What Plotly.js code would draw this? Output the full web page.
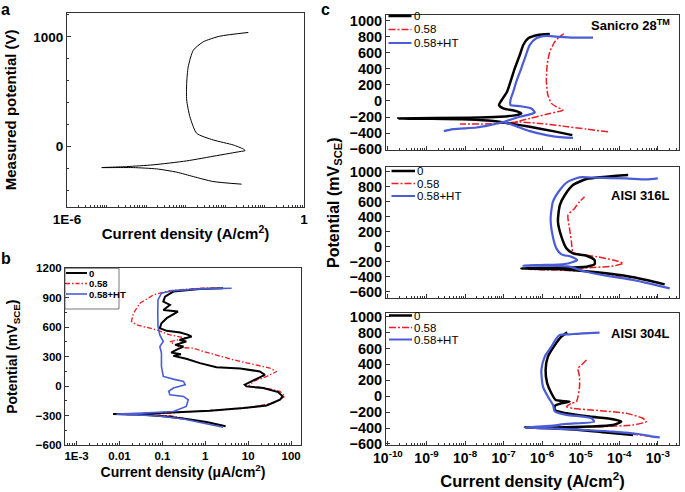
<!DOCTYPE html>
<html>
<head>
<meta charset="utf-8">
<script src="https://cdn.plot.ly/plotly-3.0.1.min.js"></script>
<style>html,body{margin:0;padding:0;background:#fff;}#chart{width:685px;height:492px;}</style>
</head>
<body>
<div id="chart"></div>
<script>
// ---------- DATA ----------
const seriesNames = ['0', '0.58', '0.58+HT'];

// Panel a (A/cm2, mV)
const aCurrent = [2.63e-2, 5.01e-3, 1.58e-3, 6.03e-4, 1.86e-4, 4.79e-5, 7.59e-6, 3.24e-5, 1.51e-4, 1.07e-3, 6.17e-3, 2.40e-2, 3.24e-2, 2.88e-2, 1.62e-2, 5.01e-3, 1.91e-3, 1.29e-3, 1.07e-3, 1.07e-3, 1.17e-3, 1.58e-3, 2.82e-3, 7.41e-3, 3.89e-2];
const aPotential = [-342, -318, -273, -233, -203, -191, -191, -182, -166, -130, -82, -45, -36, -21, 15, 61, 122, 273, 425, 576, 727, 879, 955, 1006, 1040];

// Panel b (uA/cm2, mV_SCE)
const b0Current = [2.97, 1.07, 0.363, 0.126, 0.0355, 0.0071, 0.0355, 0.214, 1.29, 7.67, 26.9, 55, 63, 50, 22.4, 9.1, 8.3, 13.2, 24.5, 18.6, 6.5, 1.82, 0.75, 0.36, 0.18, 0.27, 0.16, 0.21, 0.31, 0.2, 0.36, 0.25, 0.48, 0.40, 0.26, 0.126, 0.087, 0.095, 0.126, 0.23, 0.105, 0.15, 0.105, 0.115, 0.18, 0.75, 2.6];
const b0Potential = [-410, -366, -336, -309, -292, -285, -281, -268, -251, -224, -197, -139, -105, -61, -20, -3, 14, 58, 115, 149, 180, 193, 234, 278, 308, 325, 342, 369, 403, 420, 454, 470, 505, 522, 546, 563, 590, 641, 692, 759, 775, 827, 861, 912, 963, 990, 997];
const b58Current = [2.9, 0.75, 0.15, 0.025, 0.009, 0.087, 1.29, 9.1, 38, 72, 55, 22.4, 10, 13.2, 27, 46, 32, 4.5, 0.9, 0.52, 0.26, 0.15, 0.36, 0.15, 0.072, 0.025, 0.019, 0.021, 0.030, 0.062, 0.15, 0.75, 2.2];
const b58Potential = [-407, -359, -302, -292, -287, -282, -248, -224, -173, -105, -54, -14, -3, 48, 98, 149, 183, 268, 353, 386, 393, 454, 488, 522, 573, 624, 658, 742, 844, 929, 973, 997, 997];
const bHTCurrent = [2.6, 0.89, 0.31, 0.072, 0.021, 0.0085, 0.0355, 0.18, 0.36, 0.40, 0.31, 0.15, 0.14, 0.18, 0.34, 0.31, 0.18, 0.105, 0.095, 0.095, 0.087, 0.105, 0.087, 0.079, 0.078, 0.079, 0.095, 0.18, 0.75, 4.1];
const bHTPotential = [-420, -376, -336, -302, -292, -285, -275, -258, -207, -139, -105, -88, -54, -20, 14, 48, 71, 98, 200, 336, 403, 454, 522, 607, 742, 878, 946, 973, 990, 997];

// Panel c, Sanicro 28 (A/cm2, mV_SCE)
const s0Current = [6.08e-6, 1.91e-6, 4.79e-7, 1.45e-7, 5.37e-8, 1.32e-8, 6.76e-10, 1.86e-10, 1.32e-8, 7.94e-8, 2.14e-7, 2.88e-7, 2.14e-7, 9.77e-8, 7.59e-8, 8.91e-8, 1.23e-7, 1.51e-7, 1.95e-7, 2.63e-7, 3.24e-7, 4.37e-7, 7.76e-7, 1.58e-6];
const s0Potential = [-425, -375, -321, -280, -250, -230, -221, -217, -209, -196, -176, -155, -126, -93, -51, 11, 115, 240, 406, 572, 697, 780, 822, 834];
const s58Current = [5.13e-5, 1.41e-5, 3.47e-6, 8.71e-7, 2.63e-7, 6.31e-8, 7.41e-9, null, 1.20e-7, 4.79e-7, 1.58e-6, 3.47e-6, 2.34e-6, 1.74e-6, 1.41e-6, 1.29e-6, 1.35e-6, 1.58e-6, 2.14e-6, 2.88e-6, 3.63e-6];
const s58Potential = [-383, -350, -313, -280, -262, -283, -286, null, -288, -217, -155, -113, -72, -30, 74, 240, 448, 614, 739, 801, 834];
const sHTCurrent = [6.31e-6, 3.47e-6, 1.29e-6, 4.79e-7, 1.78e-7, 9.77e-8, null, 2.82e-9, 4.90e-9, 2.0e-8, 4.37e-8, 9.77e-8, 2.63e-7, 4.79e-7, 6.46e-7, 5.25e-7, 2.63e-7, 1.51e-7, 1.51e-7, 1.78e-7, 2.14e-7, 2.88e-7, 3.80e-7, 4.79e-7, 7.08e-7, 1.29e-6, 2.34e-6, 6.31e-6, 2.09e-5];
const sHTPotential = [-458, -454, -425, -375, -300, -262, null, -375, -350, -330, -300, -262, -196, -167, -142, -93, -64, -51, 11, 115, 240, 406, 572, 697, 780, 809, 801, 788, 788];

// Panel c, AISI 316L
const m0Current = [1.51e-3, 5.01e-4, 1.51e-4, 4.57e-5, 1.15e-5, 2.34e-6, 2.88e-7, 2.34e-6, 1.41e-5, 2.29e-5, 2.29e-5, 1.41e-5, 6.31e-6, 4.27e-6, 3.16e-6, 2.57e-6, 2.88e-6, 3.89e-6, 6.31e-6, 1.41e-5, 4.57e-5, 1.70e-4];
const m0Potential = [-502, -444, -391, -355, -324, -298, -289, -280, -266, -235, -178, -120, -89, -22, 134, 334, 556, 689, 822, 902, 933, 956];
const m58Current = [5.50e-4, 1.51e-4, 3.80e-5, 9.33e-6, 2.34e-6, 4.37e-7, 2.34e-6, 1.70e-5, 6.92e-5, 1.26e-4, 6.92e-5, 2.57e-5, 9.33e-6, 6.31e-6, 5.75e-6, 5.13e-6, 4.68e-6, 6.92e-6, 9.33e-6, 1.26e-5];
const m58Potential = [-489, -422, -355, -324, -311, -302, -298, -280, -258, -222, -178, -133, -102, -75, 67, 245, 422, 511, 600, 667];
const mHTCurrent = [2.04e-3, 7.41e-4, 2.29e-4, 4.57e-5, 1.15e-5, 5.13e-6, 1.58e-6, 3.24e-7, 8.71e-7, 3.89e-6, 8.13e-6, 5.75e-6, 3.16e-6, 2.34e-6, 1.86e-6, 1.66e-6, 1.91e-6, 2.88e-6, 4.68e-6, 9.33e-6, 2.57e-5, 1.51e-4, 5.01e-4, 1.0e-3];
const mHTPotential = [-555, -502, -444, -386, -324, -266, -253, -253, -244, -231, -178, -133, -102, -22, 156, 378, 600, 756, 867, 925, 920, 911, 898, 911];

// Panel c, AISI 304L
const l0Current = [4.47e-6, 3.16e-6, 2.14e-6, 1.41e-6, 1.23e-6, 1.35e-6, 1.74e-6, 2.24e-6, 3.16e-6, 5.13e-6, 3.16e-6, 2.14e-6, 2.14e-6, 4.27e-6, 1.70e-5, 6.92e-5, 1.12e-4, 6.92e-5, 1.70e-5, 2.34e-6, 3.55e-7, 1.58e-6, 9.33e-6, 4.57e-5, 2.29e-4];
const l0Potential = [803, 749, 644, 498, 330, 163, 37, -47, -59, -68, -89, -122, -172, -214, -256, -290, -319, -361, -382, -394, -394, -403, -424, -457, -486];
const l58Current = [1.41e-5, 1.05e-5, 8.51e-6, 9.33e-6, 9.33e-6, 8.51e-6, 7.76e-6, 5.75e-6, 4.27e-6, 6.31e-6, 3.09e-5, 1.51e-4, 4.07e-4, 5.01e-4, 2.29e-4, 3.09e-5, 4.27e-6, 8.71e-7, 6.31e-6, 4.57e-5, 2.29e-4, 7.41e-4];
const l58Potential = [456, 393, 351, 246, 121, -5, -68, -89, -131, -152, -181, -214, -277, -319, -361, -382, -390, -394, -415, -445, -478, -507];
const lHTCurrent = [3.09e-5, 1.15e-5, 5.13e-6, 2.88e-6, 2.34e-6, 1.74e-6, 1.17e-6, 9.55e-7, 1.05e-6, 1.41e-6, 1.91e-6, 2.14e-6, 4.27e-6, 1.15e-5, 1.91e-5, 2.24e-5, 4.27e-6, 1.58e-6, 3.55e-7, 1.58e-6, 1.15e-5, 6.92e-5, 3.39e-4, 7.41e-4, 1.12e-3];
const lHTPotential = [799, 791, 778, 770, 728, 623, 498, 330, 121, -5, -109, -193, -235, -256, -277, -319, -348, -373, -394, -403, -424, -445, -478, -507, -516];

// Tick labels
const aTickVals = [1e-6, 1];
const aTickText = ['1E-6', '1'];
const bTickVals = [0.001, 0.01, 0.1, 1, 10, 100];
const bTickText = ['1E-3', '0.01', '0.1', '1', '10', '100'];
const cTickVals = [1e-10, 1e-9, 1e-8, 1e-7, 1e-6, 1e-5, 1e-4, 1e-3];
const cTickText = ['10<sup>-10</sup>', '10<sup>-9</sup>', '10<sup>-8</sup>', '10<sup>-7</sup>', '10<sup>-6</sup>', '10<sup>-5</sup>', '10<sup>-4</sup>', '10<sup>-3</sup>'];
const panelLabels = ['a', 'b', 'c'];
const alloyNames = ['Sanicro 28<sup>TM</sup>', 'AISI 316L', 'AISI 304L'];
const cYTitle = 'Potential (mV<sub>SCE</sub>)';

// ---------- STYLE / LAYOUT ----------
const W = 685, H = 492;
const px = p => p / W;
const py = p => 1 - p / H;
const FONT = 'Liberation Sans, Arial, sans-serif';
const BLACK = '#000000', RED = '#ee1c24', BLUE = '#4a5cd6';
const colors = [BLACK, RED, BLUE];

function tr(x, y, xa, ya, color, width, dash, shape) {
  return {x: x, y: y, xaxis: xa, yaxis: ya, type: 'scatter', mode: 'lines', showlegend: false,
    connectgaps: false, hoverinfo: 'skip',
    line: {color: color, width: width, dash: dash || 'solid', shape: shape || 'linear', smoothing: 0.6}};
}
const DD = '7px,2px,2px,2px';
const traces = [
  tr(aCurrent, aPotential, 'x', 'y', BLACK, 1, 'solid', 'spline'),
  tr(b58Current, b58Potential, 'x2', 'y2', RED, 1.3, '5px,2px,1.5px,2px'),
  tr(b0Current, b0Potential, 'x2', 'y2', BLACK, 2),
  tr(bHTCurrent, bHTPotential, 'x2', 'y2', BLUE, 1.6),
  tr(s58Current, s58Potential, 'x3', 'y3', RED, 1.5, DD, 'spline'),
  tr(s0Current, s0Potential, 'x3', 'y3', BLACK, 2.5, 'solid', 'spline'),
  tr(sHTCurrent, sHTPotential, 'x3', 'y3', BLUE, 2.2, 'solid', 'spline'),
  tr(m58Current, m58Potential, 'x4', 'y4', RED, 1.5, DD, 'spline'),
  tr(m0Current, m0Potential, 'x4', 'y4', BLACK, 2.5, 'solid', 'spline'),
  tr(mHTCurrent, mHTPotential, 'x4', 'y4', BLUE, 2.2, 'solid', 'spline'),
  tr(l58Current, l58Potential, 'x5', 'y5', RED, 1.5, DD, 'spline'),
  tr(l0Current, l0Potential, 'x5', 'y5', BLACK, 2.5, 'solid', 'spline'),
  tr(lHTCurrent, lHTPotential, 'x5', 'y5', BLUE, 2.2, 'solid', 'spline')
];

const boldFont = (s) => ({family: FONT, size: s, color: '#000', weight: 'bold'});
function axBase(extra) {
  return Object.assign({showline: true, mirror: true, linecolor: '#333', linewidth: 1,
    showgrid: false, zeroline: false, ticks: 'inside', ticklen: 4, tickcolor: '#333',
    fixedrange: true}, extra);
}
const cxDomain = [px(386), px(679)];
const cxRange = [-10.05, -2.45];
const decMinor = {ticks: 'inside', ticklen: 2, dtick: 'D1', tickcolor: '#333'};

const layout = {
  width: W, height: H, margin: {l: 0, r: 0, t: 0, b: 0},
  paper_bgcolor: '#fff', plot_bgcolor: '#fff', showlegend: false,
  font: {family: FONT, color: '#000'},
  xaxis: axBase({domain: [px(67), px(304)], anchor: 'y', type: 'log', range: [-6, 0],
    tickvals: aTickVals, ticktext: aTickText, tickfont: boldFont(13.5), minor: decMinor,
    title: {text: 'Current density (A/cm<sup>2</sup>)', font: boldFont(15), standoff: 2}}),
  yaxis: axBase({domain: [py(207), py(12.7)], anchor: 'x', range: [-550, 1220],
    tickvals: [0, 1000], tickfont: boldFont(13.5),
    minor: {ticks: 'inside', ticklen: 2, dtick: 200, tickcolor: '#333'},
    title: {text: 'Measured potential (V)', font: boldFont(15), standoff: 12}}),
  xaxis2: axBase({domain: [px(65), px(301)], anchor: 'y2', type: 'log', range: [-3.27, 2.23],
    tickvals: bTickVals, ticktext: bTickText, tickfont: boldFont(11.5), minor: decMinor,
    title: {text: 'Current density (μA/cm<sup>2</sup>)', font: boldFont(14), standoff: 2}}),
  yaxis2: axBase({domain: [py(445), py(268.3)], anchor: 'x2', range: [-600, 1200],
    dtick: 300, tick0: 0, tickfont: boldFont(11.5),
    minor: {ticks: 'inside', ticklen: 2, dtick: 150, tickcolor: '#333'},
    title: {text: 'Potential (mV<sub>SCE</sub>)', font: boldFont(14), standoff: 14}}),
  xaxis3: axBase({domain: cxDomain, anchor: 'y3', type: 'log', range: cxRange,
    tickvals: cTickVals, showticklabels: false, minor: decMinor}),
  yaxis3: axBase({domain: [py(150), py(15)], anchor: 'x3', range: [-610, 1070],
    dtick: 200, tick0: 0, tickfont: boldFont(14.5)}),
  xaxis4: axBase({domain: cxDomain, anchor: 'y4', type: 'log', range: cxRange,
    tickvals: cTickVals, showticklabels: false, minor: decMinor}),
  yaxis4: axBase({domain: [py(297.7), py(166.7)], anchor: 'x4', range: [-680, 1067],
    dtick: 200, tick0: 0, tickfont: boldFont(14.5)}),
  xaxis5: axBase({domain: cxDomain, anchor: 'y5', type: 'log', range: cxRange,
    tickvals: cTickVals, ticktext: cTickText, tickfont: boldFont(14), minor: decMinor,
    title: {text: 'Current density (A/cm<sup>2</sup>)', font: boldFont(16.5), standoff: 10}}),
  yaxis5: axBase({domain: [py(445), py(312.7)], anchor: 'x5', range: [-613, 1050],
    dtick: 200, tick0: 0, tickfont: boldFont(14.5)}),
  annotations: [],
  shapes: []
};

// shared y title of panel c
layout.annotations.push({xref: 'paper', yref: 'paper', x: px(334), y: py(203), text: cYTitle,
  textangle: -90, showarrow: false, xanchor: 'center', yanchor: 'middle', font: boldFont(16)});

// panel letters
[[5, 0], [6, 249], [325, 0]].forEach((p, i) => {
  layout.annotations.push({xref: 'paper', yref: 'paper', x: px(p[0]), y: py(p[1]), text: panelLabels[i],
    showarrow: false, xanchor: 'center', yanchor: 'top', borderpad: 0, font: boldFont(16)});
});
// alloy labels
[25, 195, 333].forEach((yy, i) => {
  layout.annotations.push({xref: 'paper', yref: 'paper', x: px(672), y: py(yy), text: alloyNames[i],
    showarrow: false, xanchor: 'right', yanchor: 'middle', font: boldFont(13)});
});

// legend keys (decoration)
function legend(x0, x1, rows, fsize, bold, dashes, widths) {
  rows.forEach((yy, i) => {
    layout.shapes.push({type: 'line', xref: 'paper', yref: 'paper', x0: px(x0), x1: px(x1), y0: py(yy), y1: py(yy),
      line: {color: colors[i], width: widths[i], dash: dashes[i]}});
    layout.annotations.push({xref: 'paper', yref: 'paper', x: px(x1 + 1), y: py(yy), text: seriesNames[i],
      showarrow: false, xanchor: 'left', yanchor: 'middle', borderpad: 0,
      font: {family: FONT, size: fsize, color: '#000', weight: bold ? 'bold' : 'normal'}});
  });
}
layout.shapes.push({type: 'rect', xref: 'paper', yref: 'paper', x0: px(65), x1: px(119), y0: py(309), y1: py(268.3),
  line: {color: '#555', width: 0.8}});
legend(66, 87, [273, 283.5, 294], 9.5, true, ['solid', '4px,2px,1.5px,2px', 'solid'], [2, 1.3, 1.6]);
legend(388.5, 411.5, [16, 29.5, 43], 11.5, false, ['solid', DD, 'solid'], [2.5, 1.5, 2]);
legend(391.5, 415, [171, 183.5, 196], 11.5, false, ['solid', DD, 'solid'], [2.5, 1.5, 2]);
legend(389, 412, [315.5, 327.5, 339.5], 11.5, false, ['solid', DD, 'solid'], [2.5, 1.5, 2]);

Plotly.newPlot('chart', traces, layout, {staticPlot: true, displayModeBar: false});
</script>
</body>
</html>
